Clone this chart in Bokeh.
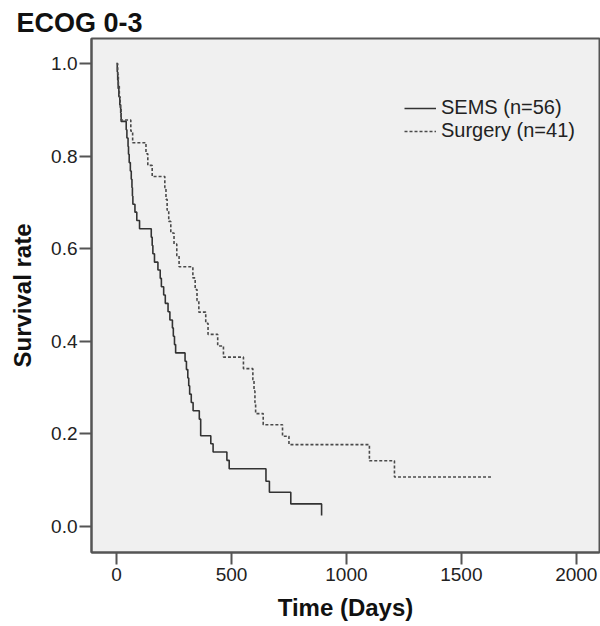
from bokeh.plotting import figure
from bokeh.models import Range1d, FixedTicker, PrintfTickFormatter, Legend, LegendItem
from bokeh.embed import file_html
from bokeh.resources import INLINE

# Kaplan-Meier step data
sems_days = [0, 3, 5, 7, 10, 14, 18, 20, 42, 45, 50, 52, 55, 60, 64, 67, 69, 71,
             80, 88, 100, 151, 155, 158, 165, 180, 190, 195, 205, 212, 224, 232,
             243, 247, 252, 257, 298, 304, 310, 314, 318, 325, 333, 360, 366,
             410, 420, 480, 490, 650, 665, 758, 892]
sems_surv = [1.0, 0.982, 0.964, 0.946, 0.929, 0.911, 0.893, 0.875, 0.857, 0.839,
             0.821, 0.804, 0.786, 0.768, 0.750, 0.732, 0.714, 0.696, 0.679, 0.661,
             0.643, 0.625, 0.607, 0.589, 0.571, 0.554, 0.536, 0.518, 0.500, 0.482,
             0.464, 0.446, 0.429, 0.411, 0.393, 0.375, 0.357, 0.339, 0.321, 0.304,
             0.286, 0.268, 0.250, 0.232, 0.196, 0.179, 0.161, 0.143, 0.125, 0.098,
             0.074, 0.049, 0.024]

surg_days = [0, 5, 8, 12, 16, 20, 62, 70, 128, 136, 155, 210, 215, 220, 227, 236,
             250, 262, 272, 332, 342, 350, 358, 388, 398, 440, 465, 552, 593, 598,
             602, 605, 638, 722, 750, 1100, 1209, 1638]
surg_surv = [1.0, 0.976, 0.951, 0.927, 0.902, 0.878, 0.854, 0.829, 0.805, 0.780,
             0.756, 0.732, 0.707, 0.683, 0.659, 0.634, 0.610, 0.585, 0.561, 0.537,
             0.512, 0.488, 0.463, 0.439, 0.415, 0.390, 0.366, 0.341, 0.317, 0.293,
             0.268, 0.244, 0.220, 0.195, 0.177, 0.142, 0.107, 0.107]

x_ticks = [0, 500, 1000, 1500, 2000]
y_ticks = [0.0, 0.2, 0.4, 0.6, 0.8, 1.0]
series_labels = ["SEMS (n=56)", "Surgery (n=41)"]
title_text = "ECOG 0-3"
x_label = "Time (Days)"
y_label = "Survival rate"

FONT = "Liberation Sans"
AX = "#555555"

p = figure(width=600, height=626, output_backend="svg", toolbar_location=None,
           x_range=Range1d(-109, 2101), y_range=Range1d(-0.056, 1.054),
           min_border_left=91, min_border_right=1, min_border_top=38,
           min_border_bottom=74)

p.background_fill_color = "#f0f0f0"
p.border_fill_color = "white"
p.outline_line_color = AX
p.outline_line_width = 2
p.grid.visible = False

p.title.text = title_text
p.title.text_font = FONT
p.title.text_font_size = "27px"
p.title.text_font_style = "bold"
p.title.text_color = "#111111"
p.title.align = "left"
p.title.offset = -75
p.title.standoff = 1

for ax in (p.xaxis[0], p.yaxis[0]):
    ax.axis_line_color = AX
    ax.axis_line_width = 2
    ax.major_tick_line_color = AX
    ax.major_tick_line_width = 2
    ax.major_tick_out = 12
    ax.major_tick_in = 0
    ax.minor_tick_line_color = None
    ax.major_label_text_font = FONT
    ax.major_label_text_font_size = "19px"
    ax.major_label_text_color = "#222222"
    ax.axis_label_text_font = FONT
    ax.axis_label_text_font_size = "24px"
    ax.axis_label_text_font_style = "bold"
    ax.axis_label_text_color = "#111111"

p.xaxis.ticker = FixedTicker(ticks=x_ticks)
p.yaxis.ticker = FixedTicker(ticks=y_ticks)
p.yaxis.formatter = PrintfTickFormatter(format="%.1f")
p.xaxis.axis_label = x_label
p.yaxis.axis_label = y_label
p.xaxis.major_label_standoff = 3
p.yaxis.major_label_standoff = 2
p.xaxis.axis_label_standoff = 10
p.yaxis.axis_label_standoff = 12

r1 = p.step(sems_days, sems_surv, mode="after", line_color="#333333", line_width=1.6)
r2 = p.step(surg_days, surg_surv, mode="after", line_color="#4a4a4a", line_width=1.6,
            line_dash="3 2")

legend = Legend(items=[LegendItem(label=series_labels[0], renderers=[r1]),
                       LegendItem(label=series_labels[1], renderers=[r2])],
                location=(313, 410), glyph_width=32, glyph_height=18, spacing=-3,
                label_height=18, padding=0, margin=0, label_standoff=5,
                label_text_font=FONT, label_text_font_size="20px",
                label_text_color="#222222",
                border_line_color=None, background_fill_alpha=0)
p.add_layout(legend)

open("out.html", "w").write(file_html(p, INLINE))
